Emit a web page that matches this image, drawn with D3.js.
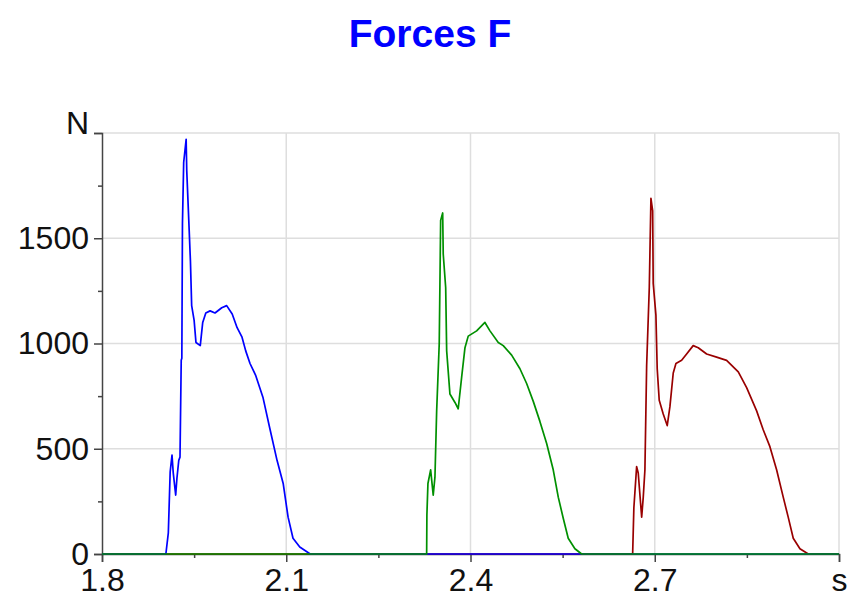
<!DOCTYPE html>
<html lang="en">
<head>
<meta charset="utf-8">
<title>Forces F</title>
<script src="https://cdn.jsdelivr.net/npm/d3@7"></script>
<style>
  body { margin: 0; background: #fff; }
  svg text { font-family: "Liberation Sans", Arial, sans-serif; }
  .axis path, .axis line { stroke: #444; stroke-width: 1.5; }
  .axis text { fill: #111; font-size: 32px; }
  .grid line { stroke: #dedede; stroke-width: 1.5; }
</style>
</head>
<body>
<script>
// time (s) and force (N), one array pair per pulse
var tBlue = [1.8, 1.904, 1.908, 1.911, 1.914, 1.916, 1.920, 1.922, 1.925, 1.927, 1.929, 1.930, 1.931,
             1.933, 1.937, 1.938, 1.942, 1.944, 1.946, 1.950, 1.953, 1.960, 1.964, 1.969, 1.976,
             1.984, 1.995, 2.003, 2.012, 2.020, 2.028, 2.034, 2.041, 2.050, 2.062, 2.073,
             2.085, 2.095, 2.103, 2.111, 2.122, 2.139, 3.0];
var fBlue = [0, 0, 100, 390, 470, 385, 280, 360, 445, 460, 920, 930, 1570,
             1860, 1970, 1820, 1535, 1390, 1180, 1110, 1005, 990, 1100, 1145, 1155,
             1145, 1170, 1180, 1140, 1075, 1030, 965, 905, 850, 745, 600,
             445, 335, 175, 75, 33, 0, 0];

var tGreen = [1.8, 2.3286, 2.329, 2.3307, 2.3351, 2.3393, 2.3421, 2.3449, 2.3491, 2.3514, 2.3547,
              2.3556, 2.3596, 2.3612, 2.3665, 2.3747, 2.380, 2.3856, 2.391, 2.3963, 2.410, 2.4235,
              2.4317, 2.4452, 2.4533, 2.467, 2.4805, 2.4914, 2.5022, 2.513, 2.524, 2.5347,
              2.5429, 2.551, 2.5591, 2.570, 2.581, 3.0];
var fGreen = [0, 0, 185, 335, 400, 280, 365, 680, 1000, 1585, 1620,
              1425, 1265, 965, 760, 720, 690, 840, 980, 1035, 1060, 1100,
              1060, 1005, 990, 945, 880, 810, 725, 630, 525, 400,
              270, 170, 75, 25, 0, 0];

var tRed = [1.8, 2.664, 2.666, 2.6705, 2.6731, 2.6787, 2.6813, 2.684, 2.6868, 2.6911, 2.6938,
            2.6966, 2.6975, 2.7019, 2.704, 2.7073, 2.7138, 2.7203, 2.7247, 2.7301, 2.7345,
            2.7438, 2.7519, 2.7626, 2.7708, 2.7845, 2.8007, 2.817, 2.836, 2.8496, 2.8659,
            2.8766, 2.8875, 2.8984, 2.9092, 2.9173, 2.9255, 2.9364, 2.950, 3.0];
var fRed = [0, 0, 220, 415, 385, 175, 270, 400, 895, 1265, 1690,
            1630, 1285, 1135, 880, 730, 665, 610, 700, 860, 905,
            920, 950, 990, 980, 950, 935, 920, 865, 790, 680,
            590, 510, 400, 270, 175, 75, 25, 0, 0];

var xMajor = [1.8, 2.1, 2.4, 2.7, 3.0];
var xMinor = [1.95, 2.25, 2.55, 2.85];
var yMajor = [0, 500, 1000, 1500, 2000];
var yMinor = [250, 750, 1250, 1750];

var w = 848, h = 597;
var plotL = 102, plotR = 839, plotT = 133, plotB = 554;

var svg = d3.select("body").append("svg")
            .attr("width", w)
            .attr("height", h);

var xScale = d3.scaleLinear().domain([1.8, 3.0]).range([plotL, plotR]);
var yScale = d3.scaleLinear().domain([0, 2000]).range([plotB, plotT]);

svg.append("text")
   .attr("x", 430)
   .attr("y", 47)
   .attr("text-anchor", "middle")
   .attr("font-size", "39px")
   .attr("font-weight", "bold")
   .attr("fill", "#0000ff")
   .text("Forces F");

// grid
var grid = svg.append("g").attr("class", "grid");
grid.selectAll("line.v")
    .data(xMajor.slice(1))
    .enter().append("line")
    .attr("x1", function(d) { return xScale(d); })
    .attr("x2", function(d) { return xScale(d); })
    .attr("y1", plotT).attr("y2", plotB);
grid.selectAll("line.h")
    .data(yMajor.slice(1))
    .enter().append("line")
    .attr("y1", function(d) { return yScale(d); })
    .attr("y2", function(d) { return yScale(d); })
    .attr("x1", plotL).attr("x2", plotR);

// axes
var xAxis = d3.axisBottom(xScale)
              .tickValues(xMajor)
              .tickSize(8)
              .tickPadding(6)
              .tickFormat(function(d) { return d === 3.0 ? "s" : d3.format(".1f")(d); });
svg.append("g")
   .attr("class", "axis")
   .attr("transform", "translate(0," + plotB + ")")
   .call(xAxis);

svg.append("g")
   .attr("class", "axis")
   .attr("transform", "translate(0," + plotB + ")")
   .call(d3.axisBottom(xScale).tickValues(xMinor).tickSize(4).tickFormat("").tickSizeOuter(0))
   .select(".domain").remove();

var yAxis = d3.axisLeft(yScale)
              .tickValues(yMajor)
              .tickSize(8)
              .tickPadding(5)
              .tickFormat(function(d) { return d === 2000 ? "N" : d; });
var yg = svg.append("g")
   .attr("class", "axis")
   .attr("transform", "translate(" + plotL + ",0)")
   .call(yAxis);
yg.selectAll(".tick text")
  .filter(function(d) { return d === 2000; })
  .attr("dy", "0");

svg.append("g")
   .attr("class", "axis")
   .attr("transform", "translate(" + plotL + ",0)")
   .call(d3.axisLeft(yScale).tickValues(yMinor).tickSize(4).tickFormat("").tickSizeOuter(0))
   .select(".domain").remove();

// series: red under blue under green, as in the picture
var line = d3.line()
             .x(function(d) { return xScale(d[0]); })
             .y(function(d) { return yScale(d[1]); });

var series = [
  { t: tRed, f: fRed, color: "#990000" },
  { t: tBlue, f: fBlue, color: "#0000ff" },
  { t: tGreen, f: fGreen, color: "#009000" }
];

series.forEach(function(s) {
  svg.append("path")
     .datum(d3.zip(s.t, s.f))
     .attr("fill", "none")
     .attr("stroke", s.color)
     .attr("stroke-width", 1.7)
     .attr("stroke-linejoin", "round")
     .attr("d", line);
});
</script>
</body>
</html>
